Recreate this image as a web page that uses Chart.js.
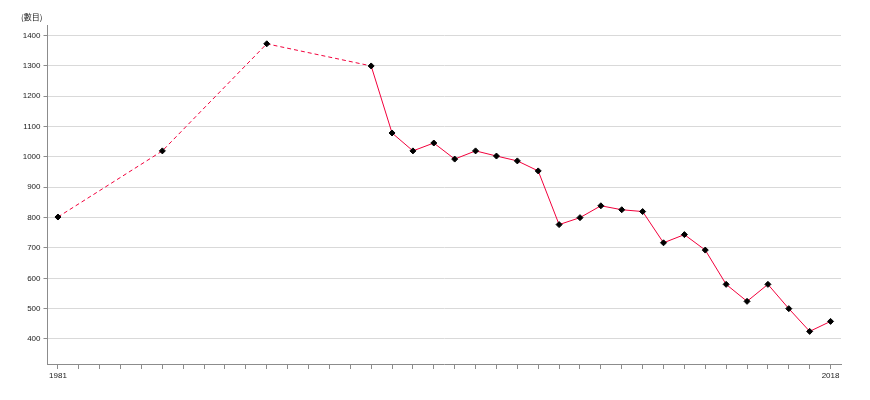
<!DOCTYPE html>
<html>
<head>
<meta charset="utf-8">
<script src="https://cdn.jsdelivr.net/npm/chart.js@4/dist/chart.umd.min.js"></script>
<style>
html,body{margin:0;padding:0;background:#fff;}
#wrap{width:870px;height:400px;position:relative;}
</style>
</head>
<body>
<div id="wrap"><canvas id="c" width="870" height="400"></canvas></div>
<script>
const years = [1981,1986,1991,1996,1997,1998,1999,2000,2001,2002,2003,2004,2005,2006,2007,2008,2009,2010,2011,2012,2013,2014,2015,2016,2017,2018];
const counts = [802,1020,1373,1300,1079,1020,1046,993,1020,1003,987,954,777,800,839,826,820,717,744,693,580,524,580,500,425,458];
const yTickValues = [400,500,600,700,800,900,1000,1100,1200,1300,1400];
const xLabelYears = [1981,2018];
const yUnitLabel = '(數目)';

const pts = years.map((y,i)=>({x:y,y:counts[i]}));
const axisGray = '#8c8c8c';
const tickFont = {family:'"Liberation Sans", Arial, sans-serif', size:8};

new Chart(document.getElementById('c'), {
  type:'line',
  data:{datasets:[{
    data:pts,
    borderColor:'#f2003c',
    borderWidth:1,
    pointStyle:'rectRot',
    pointRadius:3,
    pointBackgroundColor:'#000',
    pointBorderColor:'#000',
    pointBorderWidth:1,
    tension:0,
    segment:{
      borderDash: ctx => (ctx.p1.parsed.x - ctx.p0.parsed.x > 1 ? [4,3] : undefined)
    }
  }]},
  options:{
    responsive:false,
    animation:false,
    layout:{padding:{left:21,right:29,top:12,bottom:0}},
    plugins:{
      legend:{display:false},
      tooltip:{enabled:false},
      title:{display:true,text:yUnitLabel,align:'start',
        font:{family:'"Noto Sans CJK TC", sans-serif',size:8,weight:'normal'},
        color:'#222',padding:{top:0,bottom:4}}
    },
    scales:{
      x:{
        type:'linear',
        min:1980.5,max:2018.5,
        afterBuildTicks: s => { const t=[]; for(let y=years[0]; y<=years[years.length-1]; y++) t.push({value:y}); s.ticks=t; },
        afterFit: s => { s.height = 36; },
        ticks:{autoSkip:false,maxRotation:0,padding:2,color:'#222',font:tickFont,
          callback: v => xLabelYears.includes(v) ? String(v) : ''},
        grid:{drawOnChartArea:false,tickLength:5,color:axisGray,tickColor:axisGray},
        border:{color:axisGray}
      },
      y:{
        min:317.5,max:1433,
        afterBuildTicks: s => { s.ticks = yTickValues.map(v=>({value:v})); },
        afterFit: s => { s.width = 26.5; },
        ticks:{padding:3,color:'#222',font:tickFont,callback: v => String(v)},
        grid:{color:'#d9d9d9',tickLength:4,tickColor:axisGray},
        border:{color:axisGray}
      }
    }
  }
});
</script>
</body>
</html>
